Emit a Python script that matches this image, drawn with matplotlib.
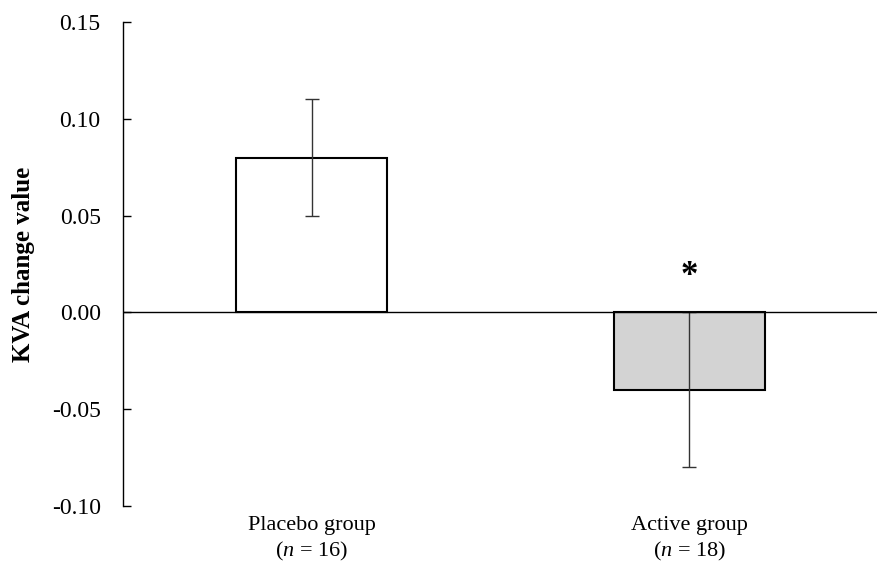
import matplotlib
matplotlib.use("Agg")
import matplotlib.pyplot as plt

plt.rcParams['font.family'] = ['Liberation Serif', 'DejaVu Serif']
plt.rcParams['mathtext.fontset'] = 'custom'
plt.rcParams['mathtext.rm'] = 'Liberation Serif'
plt.rcParams['mathtext.it'] = 'Liberation Serif:italic'

categories = ["Placebo group\n($\\it{n}$ = 16)", "Active group\n($\\it{n}$ = 18)"]
values = [0.08, -0.04]
errors = [0.03, 0.04]
colors = ["white", "#d3d3d3"]
yticks = [-0.10, -0.05, 0.00, 0.05, 0.10, 0.15]
ytick_labels = ["-0.10", "-0.05", "0.00", "0.05", "0.10", "0.15"]
sig_marks = ["", "*"]

fig = plt.figure(figsize=(8.78, 5.72), dpi=100)
ax = fig.add_axes([0.140, 0.1154, 0.860, 0.8461])

x = list(range(len(categories)))
ax.bar(x, values, width=0.40, color=colors, edgecolor="black", linewidth=1.5, zorder=2)
ax.errorbar(x, values, yerr=errors, fmt="none", ecolor="#333333", elinewidth=1.0,
            capsize=5, capthick=1.0, zorder=3)
ax.axhline(0, color="black", linewidth=1.0, zorder=4)

for xi, v, e, s in zip(x, values, errors, sig_marks):
    if s:
        ax.text(xi, 0.0185, s, ha="center", va="center", fontsize=25, fontweight="bold")

ax.set_xlim(-0.5, 1.5)
ax.set_ylim(-0.10, 0.15)
ax.set_yticks(yticks)
ax.set_yticklabels(ytick_labels, fontsize=17)
ax.set_xticks(x)
ax.set_xticklabels(categories, fontsize=16, linespacing=1.3)
ax.tick_params(axis="x", length=0, pad=7)
ax.tick_params(axis="y", direction="in", length=6, width=1.0, pad=16)

for side in ["top", "right", "bottom"]:
    ax.spines[side].set_visible(False)
ax.spines["left"].set_linewidth(1.0)

ax.set_ylabel("KVA change value", fontsize=18, fontweight="bold")
ax.yaxis.set_label_coords(-0.1166, 0.5)

fig.savefig("out.png", dpi=100)
